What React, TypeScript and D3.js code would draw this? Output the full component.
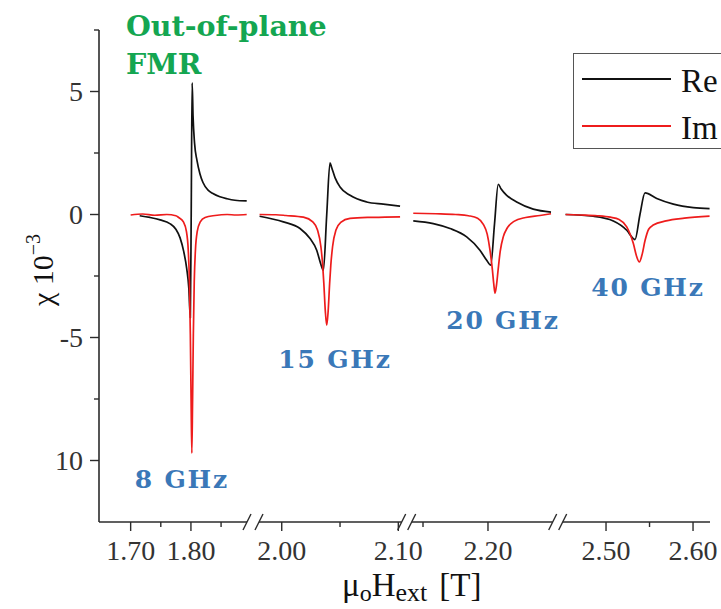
import React from "react";
import * as d3 from "d3";

// χ (×10⁻³) versus applied field, out-of-plane FMR at four frequencies.
// Each pair is [μ0H_ext in T, χ in units of 10⁻³].
const re8: [number, number][] = [
  [1.715, -0.05], [1.732, -0.12], [1.749, -0.22], [1.765, -0.37], [1.775, -0.6],
  [1.782, -0.95], [1.788, -1.5], [1.793, -2.2], [1.7965, -3.0], [1.799, -4.2],
  [1.8005, 0.2], [1.802, 5.35], [1.8035, 4.0], [1.806, 2.9], [1.81, 2.2],
  [1.815, 1.65], [1.82, 1.3], [1.828, 1.0], [1.8365, 0.85], [1.848, 0.72],
  [1.86, 0.64], [1.873, 0.58], [1.8925, 0.55],
];
const im8: [number, number][] = [
  [1.7, -0.02], [1.72, 0.02], [1.74, -0.03], [1.76, 0.0], [1.775, -0.05],
  [1.7795, -0.12], [1.7875, -0.3], [1.7925, -0.69], [1.7955, -1.43], [1.7975, -2.72],
  [1.799, -4.85], [1.8003, -7.6], [1.8015, -9.7], [1.8027, -7.6], [1.804, -4.85],
  [1.8055, -2.72], [1.8075, -1.43], [1.8105, -0.69], [1.8155, -0.3], [1.8235, -0.12],
  [1.84, -0.04], [1.86, 0.0], [1.875, -0.02], [1.8925, 0.0],
];

const re15: [number, number][] = [
  [1.981, -0.07], [2.0014, -0.3], [2.0157, -0.57], [2.0243, -0.98], [2.03, -1.45],
  [2.0334, -2.0], [2.0357, -2.27], [2.0386, 0.0], [2.0414, 2.1], [2.0429, 1.9],
  [2.0457, 1.5], [2.05, 1.12], [2.0586, 0.78], [2.0729, 0.51], [2.0871, 0.42],
  [2.1015, 0.34],
];
const im15: [number, number][] = [
  [1.981, 0.0], [1.995, -0.01], [2.0036, -0.04], [2.0186, -0.11], [2.0266, -0.3],
  [2.0306, -0.62], [2.0336, -1.31], [2.0351, -2.05], [2.0361, -2.79], [2.0374, -3.94],
  [2.0386, -4.5], [2.0398, -3.94], [2.0411, -2.79], [2.0421, -2.05], [2.0436, -1.31],
  [2.0466, -0.62], [2.0506, -0.32], [2.0586, -0.16], [2.0736, -0.12], [2.0886, -0.11],
  [2.1015, -0.1],
];

const re20: [number, number][] = [
  [2.1425, -0.26], [2.1579, -0.37], [2.1708, -0.57], [2.1836, -0.91], [2.1938, -1.45],
  [2.199, -1.86], [2.2021, -2.06], [2.205, -0.4], [2.2079, 1.23], [2.21, 1.05],
  [2.2144, 0.78], [2.2221, 0.51], [2.2348, 0.22], [2.2485, 0.1],
];
const im20: [number, number][] = [
  [2.1425, 0.05], [2.16, 0.03], [2.175, 0.0], [2.185, -0.05], [2.192, -0.15],
  [2.1964, -0.4], [2.1994, -0.8], [2.2014, -1.4], [2.2034, -2.25], [2.2044, -2.8],
  [2.2054, -3.2], [2.2066, -2.85], [2.2078, -2.25], [2.2094, -1.5], [2.2118, -0.9],
  [2.2148, -0.55], [2.22, -0.28], [2.229, -0.12], [2.24, -0.04], [2.2485, 0.03],
];

const re40: [number, number][] = [
  [2.4535, 0.0], [2.4854, -0.07], [2.5084, -0.26], [2.5238, -0.64], [2.5314, -0.98],
  [2.5333, -1.02], [2.539, 0.0], [2.5448, 0.88], [2.5583, 0.65], [2.5774, 0.42],
  [2.6003, 0.28], [2.619, 0.24],
];
const im40: [number, number][] = [
  [2.4535, 0.0], [2.47, -0.02], [2.49, -0.05], [2.505, -0.11], [2.515, -0.2],
  [2.5238, -0.5], [2.5314, -1.18], [2.5353, -1.72], [2.5383, -1.93], [2.5413, -1.65],
  [2.5449, -1.05], [2.549, -0.6], [2.5543, -0.43], [2.569, -0.26], [2.59, -0.15],
  [2.619, -0.07],
];

// Broken field axis: visible field window of each panel
const segFieldDomains: [number, number][] = [
  [1.6475, 1.893], [1.9805, 2.1029], [2.1413, 2.2498], [2.4502, 2.6195],
];
const segMajorTicks: number[][] = [[1.7, 1.8], [2.0, 2.1], [2.2], [2.5, 2.6]];
const segMinorTicks: number[][] = [[1.75, 1.85], [2.05], [2.15], [2.55]];
const segReal = [re8, re15, re20, re40];
const segImag = [im8, im15, im20, im40];

const freqLabels = ["8 GHz", "15 GHz", "20 GHz", "40 GHz"];
const freqLabelAt: [number, number][] = [
  [1.785, -11.13], [2.0457, -6.25], [2.2115, -4.66], [2.5483, -3.32],
];

const yMajorTicks = [5, 0, -5, -10];
const yMajorLabels = ["5", "0", "-5", "10"];
const yMinorTicks = [7.5, 2.5, -2.5, -7.5];

const legendLabels = ["Re", "Im"];
const legendColors = ["#111111", "#ee1c1c"];

const W = 721;
const H = 609;
const axisX = 99;
const axisY = 522;
const segPixelRanges: [number, number][] = [
  [99, 247], [259, 401.7], [411.7, 552.7], [562.7, 710],
];

const serif = "'Liberation Serif', 'Times New Roman', serif";
const boldSerif = "'DejaVu Serif', serif";

export default function App() {
  const y = d3.scaleLinear().domain([-12.5, 7.5]).range([axisY, 30]);
  const xs = segFieldDomains.map((dom, i) =>
    d3.scaleLinear().domain(dom).range(segPixelRanges[i])
  );
  const fmt = d3.format(".2f");
  const axisColor = "#2b2b2b";

  return (
    <svg
      width={W}
      height={H}
      viewBox={`0 0 ${W} ${H}`}
      style={{ position: "absolute", left: 0, top: 0, background: "#fff" }}
    >
      {/* curves */}
      {xs.map((x, i) => {
        const line = d3
          .line<[number, number]>()
          .x((d) => x(d[0]))
          .y((d) => y(d[1]))
          .curve(d3.curveMonotoneX);
        return (
          <g key={"c" + i}>
            <path d={line(segReal[i]) || ""} fill="none" stroke={legendColors[0]} strokeWidth={1.7} strokeLinejoin="round" />
            <path d={line(segImag[i]) || ""} fill="none" stroke={legendColors[1]} strokeWidth={1.7} strokeLinejoin="round" />
          </g>
        );
      })}

      {/* y axis */}
      <line x1={axisX} x2={axisX} y1={y(7.5)} y2={axisY} stroke={axisColor} strokeWidth={1.6} />
      {yMajorTicks.map((t, i) => (
        <g key={"ym" + t}>
          <line x1={axisX - 9} x2={axisX} y1={y(t)} y2={y(t)} stroke={axisColor} strokeWidth={1.4} />
          <text
            x={83}
            y={y(t)}
            dy="0.34em"
            textAnchor="end"
            fontFamily={serif}
            fontSize={28}
            fill="#333"
          >
            {yMajorLabels[i]}
          </text>
        </g>
      ))}
      {yMinorTicks.map((t) => (
        <line key={"yn" + t} x1={axisX - 5} x2={axisX} y1={y(t)} y2={y(t)} stroke={axisColor} strokeWidth={1.4} />
      ))}

      {/* x axis segments with break marks */}
      {xs.map((x, i) => {
        const [r0, r1] = segPixelRanges[i];
        return (
          <g key={"xa" + i}>
            <line x1={r0} x2={r1} y1={axisY} y2={axisY} stroke={axisColor} strokeWidth={1.6} />
            {i > 0 && (
              <line x1={r0 - 4} x2={r0 + 4} y1={axisY + 8} y2={axisY - 8} stroke={axisColor} strokeWidth={1.4} />
            )}
            {i < xs.length - 1 && (
              <line x1={r1 - 4} x2={r1 + 4} y1={axisY + 8} y2={axisY - 8} stroke={axisColor} strokeWidth={1.4} />
            )}
            {segMajorTicks[i].map((t) => (
              <g key={"xt" + t}>
                <line x1={x(t)} x2={x(t)} y1={axisY} y2={axisY + 9} stroke={axisColor} strokeWidth={1.4} />
                <text
                  x={x(t)}
                  y={560}
                  textAnchor="middle"
                  fontFamily={serif}
                  fontSize={28}
                  fill="#333"
                >
                  {fmt(t)}
                </text>
              </g>
            ))}
            {segMinorTicks[i].map((t) => (
              <line key={"xn" + t} x1={x(t)} x2={x(t)} y1={axisY} y2={axisY + 5} stroke={axisColor} strokeWidth={1.4} />
            ))}
          </g>
        );
      })}

      {/* axis titles */}
      <text x={342} y={596} fontFamily={serif} fontSize={33} fill="#111">
        μ<tspan fontSize={24} dy={5}>o</tspan>
        <tspan dy={-5}>H</tspan>
        <tspan fontSize={26} dy={5}>ext</tspan>
        <tspan dy={-5} dx={12}>[T]</tspan>
      </text>
      <text
        transform="translate(53,270) rotate(-90)"
        textAnchor="middle"
        fontFamily={serif}
        fontSize={30}
        fill="#111"
      >
        χ 10<tspan fontSize={20} dy={-13}>−3</tspan>
      </text>

      {/* frequency annotations */}
      {freqLabels.map((lbl, i) => {
        const [f, v] = freqLabelAt[i];
        return (
          <text
            key={lbl}
            x={xs[i](f)}
            y={y(v)}
            textAnchor="middle"
            fontFamily={boldSerif}
            fontWeight="bold"
            fontSize={25}
            letterSpacing={1.8}
            fill="#3a78b8"
          >
            {lbl}
          </text>
        );
      })}

      {/* title */}
      <text fontFamily={boldSerif} fontWeight="bold" fontSize={28.5} fill="#14a651">
        <tspan x={126} y={36}>Out-of-plane</tspan>
        <tspan x={126} y={74}>FMR</tspan>
      </text>

      {/* legend */}
      <rect x={573.5} y={53.5} width={200} height={95} fill="#fff" stroke="#555" strokeWidth={1} />
      {legendLabels.map((lbl, i) => (
        <g key={lbl}>
          <line x1={582} x2={671} y1={79 + i * 47} y2={79 + i * 47} stroke={legendColors[i]} strokeWidth={1.8} />
          <text x={681} y={92 + i * 47} fontFamily={serif} fontSize={33} fill="#111">
            {lbl}
          </text>
        </g>
      ))}
    </svg>
  );
}
